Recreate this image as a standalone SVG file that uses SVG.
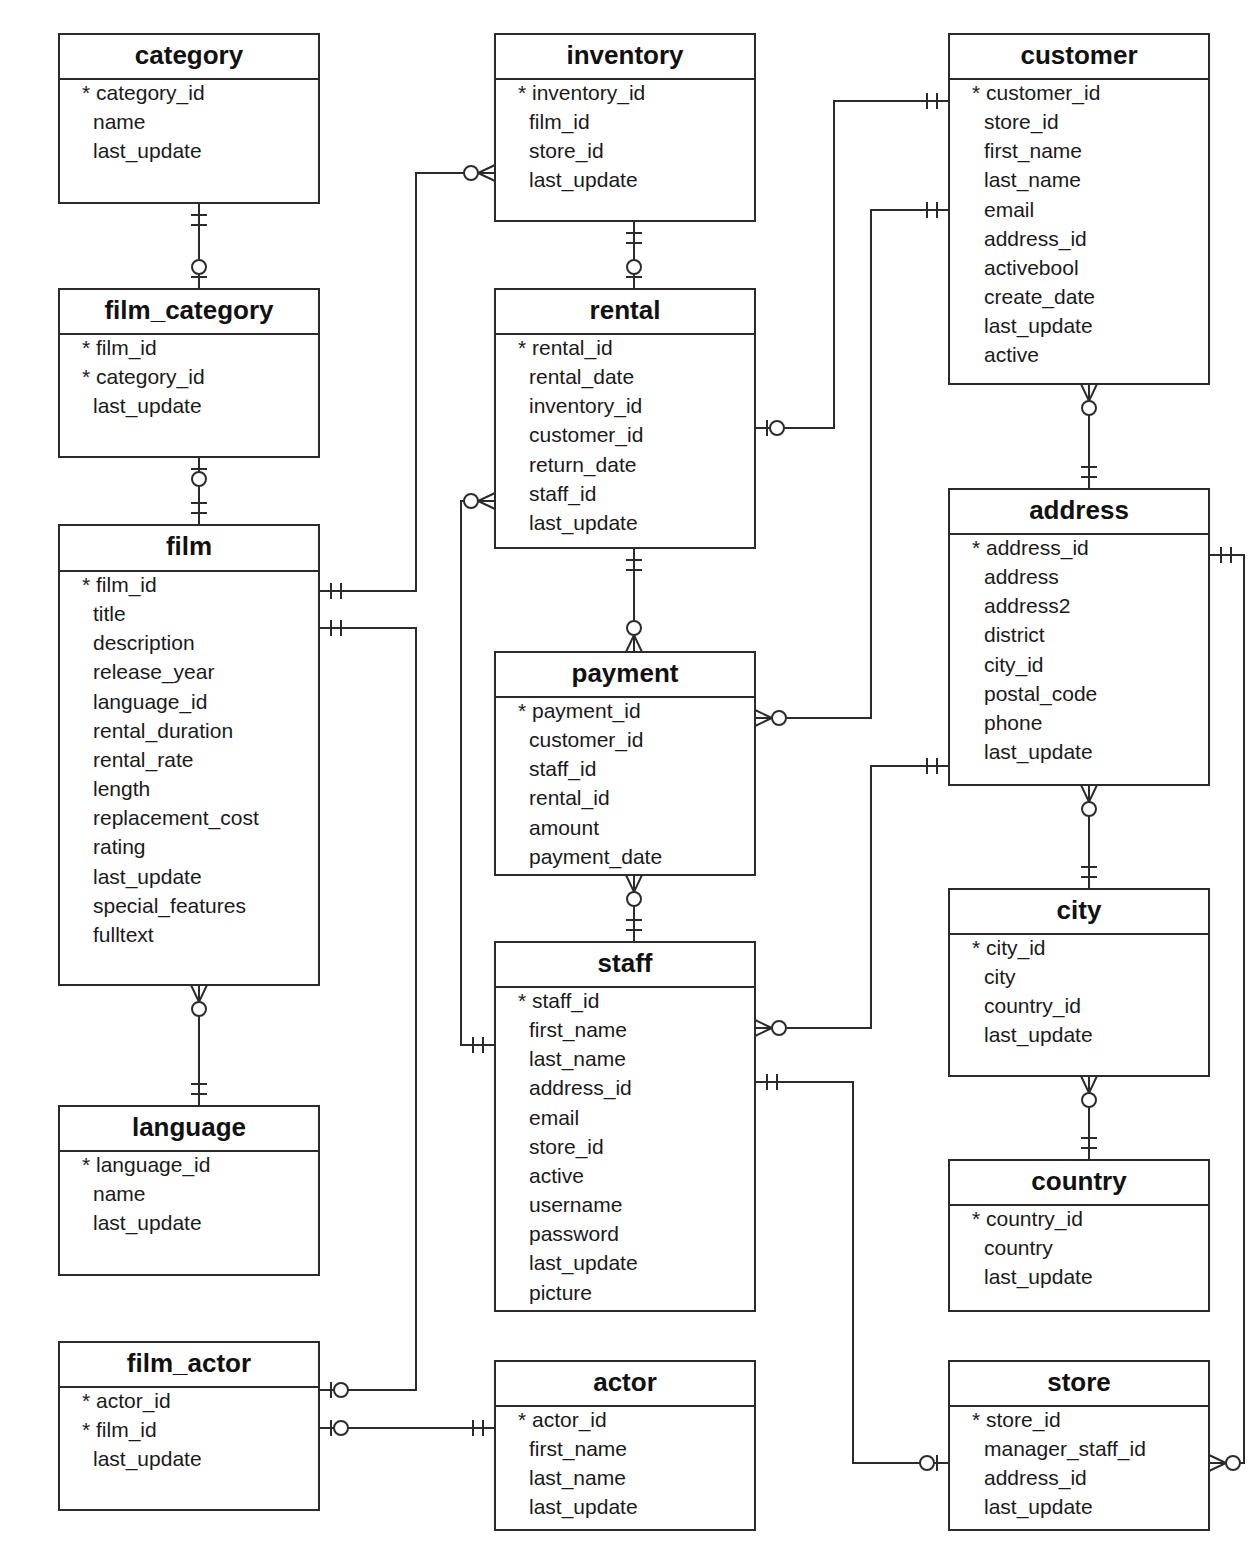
<svg xmlns="http://www.w3.org/2000/svg" xmlns:xlink="http://www.w3.org/1999/xlink" width="1258" height="1543" viewBox="0 0 1258 1543">
<style>
.box{fill:#fff;stroke:#2b2b2b;stroke-width:2}
.div{stroke:#2b2b2b;stroke-width:2}
.t{font-family:"Liberation Sans",Arial,sans-serif;font-weight:bold;font-size:26px;fill:#111;text-anchor:middle}
.f{font-family:"Liberation Sans",Arial,sans-serif;font-size:21px;fill:#1a1a1a}
.ln{fill:none;stroke:#2b2b2b;stroke-width:2}
.mk{fill:#fff;stroke:#2b2b2b;stroke-width:2}
</style>
<defs>
<g id="one"><path class="ln" d="M12,-8V8M22,-8V8"/></g>
<g id="zone"><path class="ln" d="M12,-8V8"/><circle class="mk" cx="22" cy="0" r="7"/></g>
<g id="many"><path class="ln" d="M0,-8L17,0L0,8"/><circle class="mk" cx="24" cy="0" r="7"/></g>
</defs>
<rect width="1258" height="1543" fill="#fff"/>
<g id="connectors">
<path class="ln" d="M199,203V289"/>
<path class="ln" d="M199,457V525"/>
<path class="ln" d="M199,985V1106"/>
<path class="ln" d="M319,591H416V173H495"/>
<path class="ln" d="M319,628H416V1390H319"/>
<path class="ln" d="M319,1428H495"/>
<path class="ln" d="M634,221V289"/>
<path class="ln" d="M755,428H834V101H949"/>
<path class="ln" d="M755,718H871V210H949"/>
<path class="ln" d="M495,501H461V1045H495"/>
<path class="ln" d="M634,548V652"/>
<path class="ln" d="M634,875V942"/>
<path class="ln" d="M755,1028H871V766H949"/>
<path class="ln" d="M755,1082H853V1463H949"/>
<path class="ln" d="M1089,384V489"/>
<path class="ln" d="M1209,555H1244V1463H1209"/>
<path class="ln" d="M1089,785V889"/>
<path class="ln" d="M1089,1076V1160"/>
<use xlink:href="#one" transform="translate(199,203) rotate(90)"/>
<use xlink:href="#zone" transform="translate(199,289) rotate(-90)"/>
<use xlink:href="#zone" transform="translate(199,457) rotate(90)"/>
<use xlink:href="#one" transform="translate(199,525) rotate(-90)"/>
<use xlink:href="#many" transform="translate(199,985) rotate(90)"/>
<use xlink:href="#one" transform="translate(199,1106) rotate(-90)"/>
<use xlink:href="#one" transform="translate(319,591)"/>
<use xlink:href="#many" transform="translate(495,173) rotate(180)"/>
<use xlink:href="#one" transform="translate(319,628)"/>
<use xlink:href="#zone" transform="translate(319,1390)"/>
<use xlink:href="#zone" transform="translate(319,1428)"/>
<use xlink:href="#one" transform="translate(495,1428) rotate(180)"/>
<use xlink:href="#one" transform="translate(634,221) rotate(90)"/>
<use xlink:href="#zone" transform="translate(634,289) rotate(-90)"/>
<use xlink:href="#zone" transform="translate(755,428)"/>
<use xlink:href="#one" transform="translate(949,101) rotate(180)"/>
<use xlink:href="#many" transform="translate(755,718)"/>
<use xlink:href="#one" transform="translate(949,210) rotate(180)"/>
<use xlink:href="#many" transform="translate(495,501) rotate(180)"/>
<use xlink:href="#one" transform="translate(495,1045) rotate(180)"/>
<use xlink:href="#one" transform="translate(634,548) rotate(90)"/>
<use xlink:href="#many" transform="translate(634,652) rotate(-90)"/>
<use xlink:href="#many" transform="translate(634,875) rotate(90)"/>
<use xlink:href="#one" transform="translate(634,942) rotate(-90)"/>
<use xlink:href="#many" transform="translate(755,1028)"/>
<use xlink:href="#one" transform="translate(949,766) rotate(180)"/>
<use xlink:href="#one" transform="translate(755,1082)"/>
<use xlink:href="#zone" transform="translate(949,1463) rotate(180)"/>
<use xlink:href="#many" transform="translate(1089,384) rotate(90)"/>
<use xlink:href="#one" transform="translate(1089,489) rotate(-90)"/>
<use xlink:href="#one" transform="translate(1209,555)"/>
<use xlink:href="#many" transform="translate(1209,1463)"/>
<use xlink:href="#many" transform="translate(1089,785) rotate(90)"/>
<use xlink:href="#one" transform="translate(1089,889) rotate(-90)"/>
<use xlink:href="#many" transform="translate(1089,1076) rotate(90)"/>
<use xlink:href="#one" transform="translate(1089,1160) rotate(-90)"/>
</g>
<g id="category">
<rect class="box" x="59" y="34" width="260" height="169"/><path class="div" d="M59,79H319"/>
<text class="t" x="189" y="64">category</text>
<text class="f" y="100"><tspan x="82">* category_id</tspan><tspan x="93" dy="29.15">name</tspan><tspan x="93" dy="29.15">last_update</tspan></text>
</g>
<g id="film_category">
<rect class="box" x="59" y="289" width="260" height="168"/><path class="div" d="M59,334H319"/>
<text class="t" x="189" y="319">film_category</text>
<text class="f" y="355"><tspan x="82">* film_id</tspan><tspan x="82" dy="29.15">* category_id</tspan><tspan x="93" dy="29.15">last_update</tspan></text>
</g>
<g id="film">
<rect class="box" x="59" y="525" width="260" height="460"/><path class="div" d="M59,571H319"/>
<text class="t" x="189" y="555">film</text>
<text class="f" y="592"><tspan x="82">* film_id</tspan><tspan x="93" dy="29.15">title</tspan><tspan x="93" dy="29.15">description</tspan><tspan x="93" dy="29.15">release_year</tspan><tspan x="93" dy="29.15">language_id</tspan><tspan x="93" dy="29.15">rental_duration</tspan><tspan x="93" dy="29.15">rental_rate</tspan><tspan x="93" dy="29.15">length</tspan><tspan x="93" dy="29.15">replacement_cost</tspan><tspan x="93" dy="29.15">rating</tspan><tspan x="93" dy="29.15">last_update</tspan><tspan x="93" dy="29.15">special_features</tspan><tspan x="93" dy="29.15">fulltext</tspan></text>
</g>
<g id="language">
<rect class="box" x="59" y="1106" width="260" height="169"/><path class="div" d="M59,1151H319"/>
<text class="t" x="189" y="1136">language</text>
<text class="f" y="1172"><tspan x="82">* language_id</tspan><tspan x="93" dy="29.15">name</tspan><tspan x="93" dy="29.15">last_update</tspan></text>
</g>
<g id="film_actor">
<rect class="box" x="59" y="1342" width="260" height="168"/><path class="div" d="M59,1387H319"/>
<text class="t" x="189" y="1372">film_actor</text>
<text class="f" y="1408"><tspan x="82">* actor_id</tspan><tspan x="82" dy="29.15">* film_id</tspan><tspan x="93" dy="29.15">last_update</tspan></text>
</g>
<g id="inventory">
<rect class="box" x="495" y="34" width="260" height="187"/><path class="div" d="M495,79H755"/>
<text class="t" x="625" y="64">inventory</text>
<text class="f" y="100"><tspan x="518">* inventory_id</tspan><tspan x="529" dy="29.15">film_id</tspan><tspan x="529" dy="29.15">store_id</tspan><tspan x="529" dy="29.15">last_update</tspan></text>
</g>
<g id="rental">
<rect class="box" x="495" y="289" width="260" height="259"/><path class="div" d="M495,334H755"/>
<text class="t" x="625" y="319">rental</text>
<text class="f" y="355"><tspan x="518">* rental_id</tspan><tspan x="529" dy="29.15">rental_date</tspan><tspan x="529" dy="29.15">inventory_id</tspan><tspan x="529" dy="29.15">customer_id</tspan><tspan x="529" dy="29.15">return_date</tspan><tspan x="529" dy="29.15">staff_id</tspan><tspan x="529" dy="29.15">last_update</tspan></text>
</g>
<g id="payment">
<rect class="box" x="495" y="652" width="260" height="223"/><path class="div" d="M495,697H755"/>
<text class="t" x="625" y="682">payment</text>
<text class="f" y="718"><tspan x="518">* payment_id</tspan><tspan x="529" dy="29.15">customer_id</tspan><tspan x="529" dy="29.15">staff_id</tspan><tspan x="529" dy="29.15">rental_id</tspan><tspan x="529" dy="29.15">amount</tspan><tspan x="529" dy="29.15">payment_date</tspan></text>
</g>
<g id="staff">
<rect class="box" x="495" y="942" width="260" height="369"/><path class="div" d="M495,987H755"/>
<text class="t" x="625" y="972">staff</text>
<text class="f" y="1008"><tspan x="518">* staff_id</tspan><tspan x="529" dy="29.15">first_name</tspan><tspan x="529" dy="29.15">last_name</tspan><tspan x="529" dy="29.15">address_id</tspan><tspan x="529" dy="29.15">email</tspan><tspan x="529" dy="29.15">store_id</tspan><tspan x="529" dy="29.15">active</tspan><tspan x="529" dy="29.15">username</tspan><tspan x="529" dy="29.15">password</tspan><tspan x="529" dy="29.15">last_update</tspan><tspan x="529" dy="29.15">picture</tspan></text>
</g>
<g id="actor">
<rect class="box" x="495" y="1361" width="260" height="169"/><path class="div" d="M495,1406H755"/>
<text class="t" x="625" y="1391">actor</text>
<text class="f" y="1427"><tspan x="518">* actor_id</tspan><tspan x="529" dy="29.15">first_name</tspan><tspan x="529" dy="29.15">last_name</tspan><tspan x="529" dy="29.15">last_update</tspan></text>
</g>
<g id="customer">
<rect class="box" x="949" y="34" width="260" height="350"/><path class="div" d="M949,79H1209"/>
<text class="t" x="1079" y="64">customer</text>
<text class="f" y="100"><tspan x="972">* customer_id</tspan><tspan x="984" dy="29.15">store_id</tspan><tspan x="984" dy="29.15">first_name</tspan><tspan x="984" dy="29.15">last_name</tspan><tspan x="984" dy="29.15">email</tspan><tspan x="984" dy="29.15">address_id</tspan><tspan x="984" dy="29.15">activebool</tspan><tspan x="984" dy="29.15">create_date</tspan><tspan x="984" dy="29.15">last_update</tspan><tspan x="984" dy="29.15">active</tspan></text>
</g>
<g id="address">
<rect class="box" x="949" y="489" width="260" height="296"/><path class="div" d="M949,534H1209"/>
<text class="t" x="1079" y="519">address</text>
<text class="f" y="555"><tspan x="972">* address_id</tspan><tspan x="984" dy="29.15">address</tspan><tspan x="984" dy="29.15">address2</tspan><tspan x="984" dy="29.15">district</tspan><tspan x="984" dy="29.15">city_id</tspan><tspan x="984" dy="29.15">postal_code</tspan><tspan x="984" dy="29.15">phone</tspan><tspan x="984" dy="29.15">last_update</tspan></text>
</g>
<g id="city">
<rect class="box" x="949" y="889" width="260" height="187"/><path class="div" d="M949,934H1209"/>
<text class="t" x="1079" y="919">city</text>
<text class="f" y="955"><tspan x="972">* city_id</tspan><tspan x="984" dy="29.15">city</tspan><tspan x="984" dy="29.15">country_id</tspan><tspan x="984" dy="29.15">last_update</tspan></text>
</g>
<g id="country">
<rect class="box" x="949" y="1160" width="260" height="151"/><path class="div" d="M949,1205H1209"/>
<text class="t" x="1079" y="1190">country</text>
<text class="f" y="1226"><tspan x="972">* country_id</tspan><tspan x="984" dy="29.15">country</tspan><tspan x="984" dy="29.15">last_update</tspan></text>
</g>
<g id="store">
<rect class="box" x="949" y="1361" width="260" height="169"/><path class="div" d="M949,1406H1209"/>
<text class="t" x="1079" y="1391">store</text>
<text class="f" y="1427"><tspan x="972">* store_id</tspan><tspan x="984" dy="29.15">manager_staff_id</tspan><tspan x="984" dy="29.15">address_id</tspan><tspan x="984" dy="29.15">last_update</tspan></text>
</g>
</svg>
